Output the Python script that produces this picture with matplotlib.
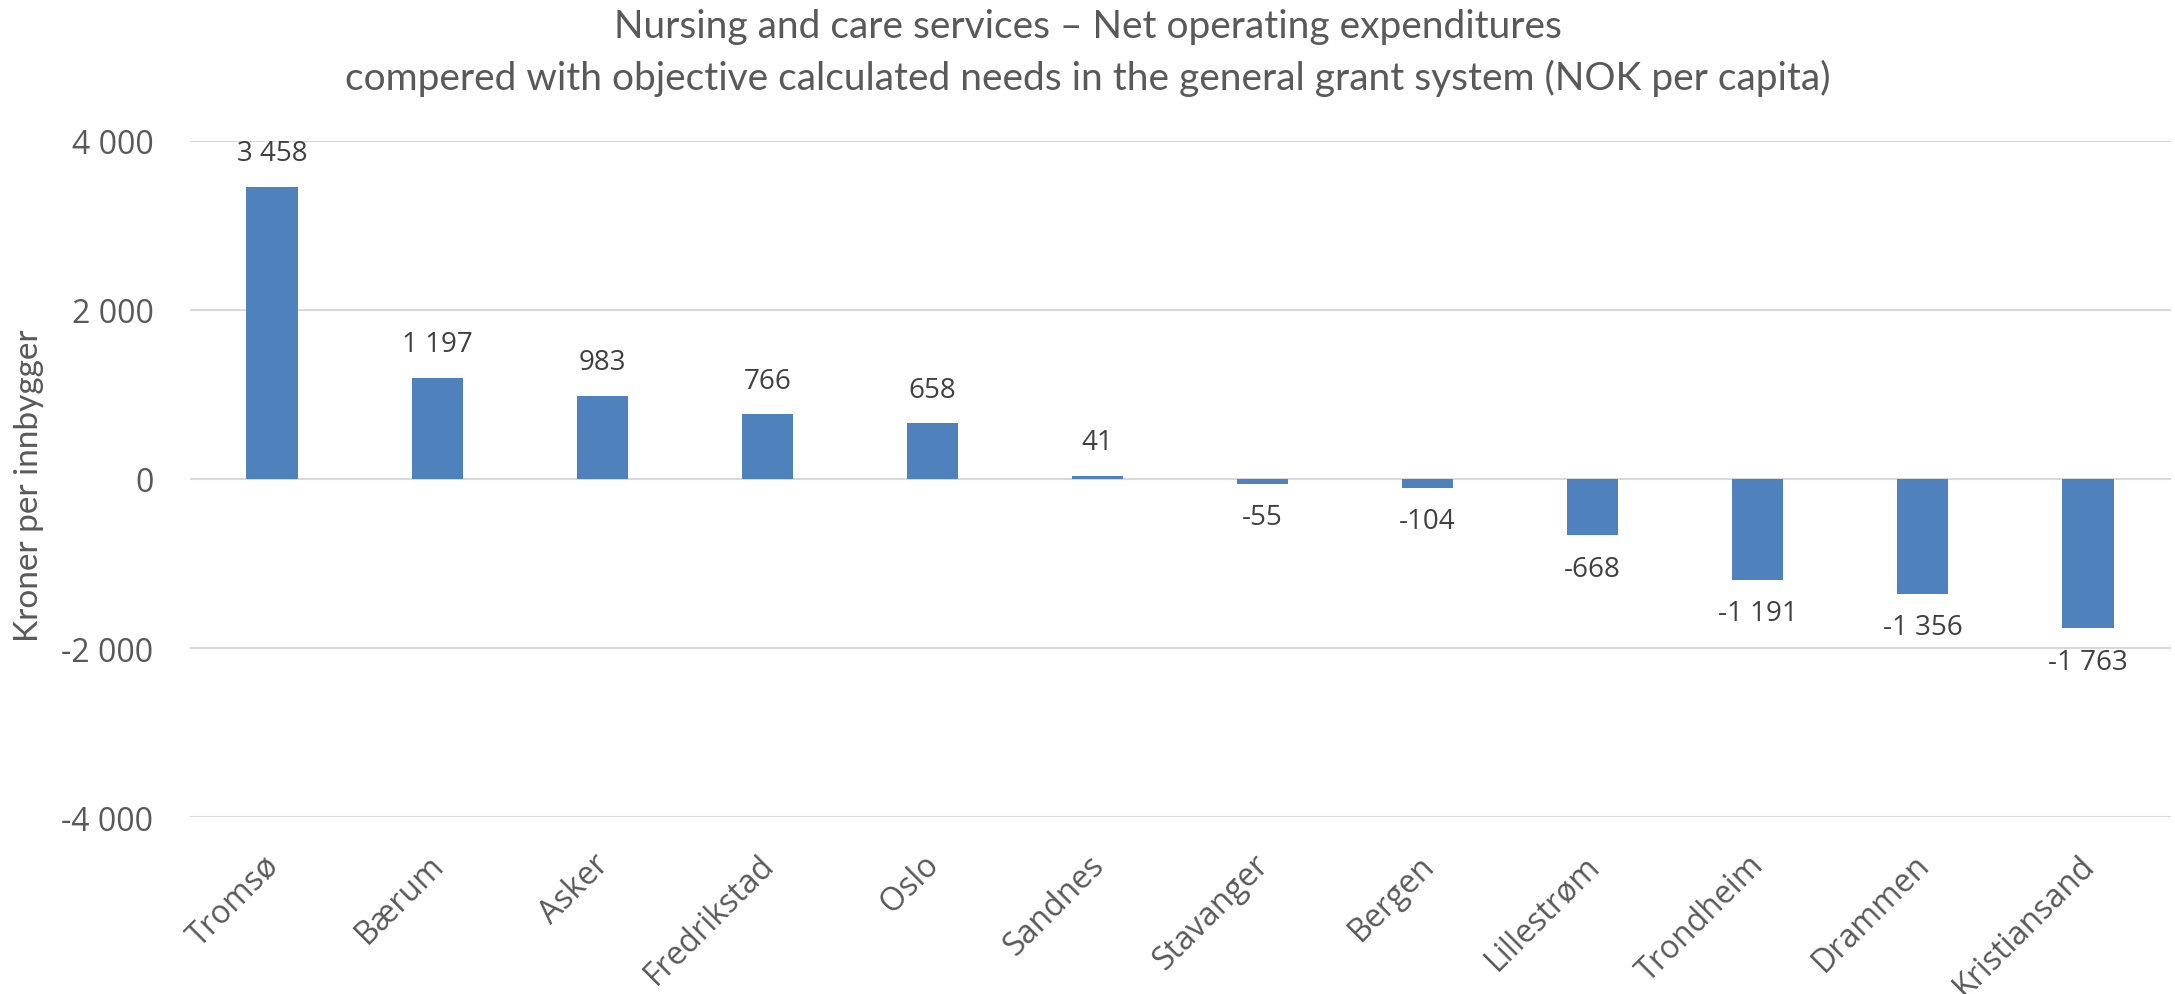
import matplotlib
matplotlib.use("Agg")
import matplotlib.pyplot as plt
import matplotlib.transforms as mtransforms

categories = ["Tromsø", "Bærum", "Asker", "Fredrikstad", "Oslo", "Sandnes",
              "Stavanger", "Bergen", "Lillestrøm", "Trondheim", "Drammen", "Kristiansand"]
values = [3458, 1197, 983, 766, 658, 41, -55, -104, -668, -1191, -1356, -1763]
yticks = [-4000, -2000, 0, 2000, 4000]
ytick_labels = ["-4 000", "-2 000", "0", "2 000", "4 000"]
title_lines = ["Nursing and care services \u2013 Net operating expenditures",
               "compered with objective calculated needs in the general grant system (NOK per capita)"]
ylabel = "Kroner per innbygger"

BAR = "#4F81BD"
TXT = "#595959"
GRID = "#D9D9D9"

fig = plt.figure(figsize=(21.75, 9.95), dpi=100)
ax = fig.add_axes([189.5/2175, 1-818.3/995, (2170.5-189.5)/2175, (818.3-141.7)/995])

x = list(range(len(categories)))
bars = ax.bar(x, values, width=0.31, color=BAR, zorder=3)

ax.set_xlim(-0.5, len(categories)-0.5)
ax.set_ylim(-4000, 4000)
ax.set_yticks(yticks)
ax.set_yticklabels(ytick_labels, fontfamily="Open Sans", fontsize=23, color=TXT)
ax.tick_params(axis="y", length=0, pad=26)
ax.grid(axis="y", color=GRID, linewidth=1.5, zorder=0)
for s in ax.spines.values():
    s.set_visible(False)

ax.set_xticks(x)
ax.set_xticklabels(categories, rotation=45, ha="right", rotation_mode="anchor",
                   fontfamily="Open Sans", fontsize=23, color=TXT)
ax.tick_params(axis="x", length=0, pad=22)
off = mtransforms.ScaledTranslation(-10/100, 0, fig.dpi_scale_trans)
for lab in ax.get_xticklabels():
    lab.set_transform(lab.get_transform() + off)

for xi, v in zip(x, values):
    lbl = f"{abs(v):,}".replace(",", " ")
    if v < 0:
        lbl = "-" + lbl
    if v >= 0:
        ax.annotate(lbl, (xi, v), xytext=(0, 14), textcoords="offset points",
                    ha="center", va="bottom", fontfamily="Open Sans", fontsize=20, color="#404040")
    else:
        ax.annotate(lbl, (xi, v), xytext=(0, -14), textcoords="offset points",
                    ha="center", va="top", fontfamily="Open Sans", fontsize=20, color="#404040")

ax.set_ylabel(ylabel, fontfamily="Lato", fontsize=24, color=TXT)
ax.yaxis.set_label_coords(44/2175, 1-486/995, transform=fig.transFigure)

fig.text(0.5, 1-27/995, title_lines[0], ha="center", va="center",
         fontfamily="Lato", fontsize=28, color=TXT)
fig.text(0.5, 1-78/995, title_lines[1], ha="center", va="center",
         fontfamily="Lato", fontsize=28, color=TXT)

fig.savefig("out.png", dpi=100)
